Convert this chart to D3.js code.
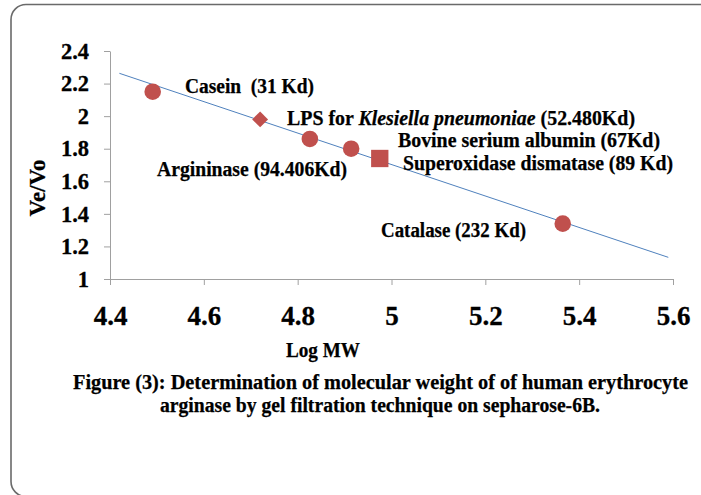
<!DOCTYPE html>
<html>
<head>
<meta charset="utf-8">
<script src="https://cdn.jsdelivr.net/npm/d3@7"></script>
<style>
  body { margin: 0; background: #fff; }
  svg { display: block; font-family: "Liberation Serif", "Times New Roman", serif; font-weight: bold; }
</style>
</head>
<body>
<div class="plot"></div>
<script>
// points
const logMW = [4.491, 4.72, 4.826, 4.914, 4.975, 5.365];
const veVo = [2.15, 1.98, 1.86, 1.80, 1.74, 1.34];
const shapes = ["circle", "diamond", "circle", "circle", "square", "circle"];

// fitted line end points
const trendX = [4.42, 5.59];
const trendY = [2.263, 1.133];

const xTicks = [4.4, 4.6, 4.8, 5, 5.2, 5.4, 5.6];
const yTicks = [1, 1.2, 1.4, 1.6, 1.8, 2, 2.2, 2.4];

const labels = [
  "Casein  (31 Kd)",
  "LPS for |Klesiella pneumoniae| (52.480Kd)",
  "Bovine serium albumin (67Kd)",
  "Superoxidase dismatase (89 Kd)",
  "Argininase (94.406Kd)",
  "Catalase (232 Kd)"
];

const width = 701;
const height = 495;

const svg = d3.select(".plot")
  .append("svg")
  .attr("width", width)
  .attr("height", height);

// rounded frame, mostly running off the page
svg.append("rect")
  .attr("x", 11)
  .attr("y", 4.5)
  .attr("width", 720)
  .attr("height", 492)
  .attr("rx", 15)
  .attr("fill", "none")
  .attr("stroke", "#6a6a6a")
  .attr("stroke-width", 1.6);

const x = d3.scaleLinear().domain([4.4, 5.6]).range([110, 673]);
const y = d3.scaleLinear().domain([1, 2.4]).range([279, 51]);

const xAxis = svg.append("g")
  .attr("transform", "translate(0,279)")
  .call(d3.axisBottom(x).tickValues(xTicks).tickFormat(d3.format("~g"))
    .tickSize(6).tickSizeOuter(0).tickPadding(21));

const yAxis = svg.append("g")
  .attr("transform", "translate(110,0)")
  .call(d3.axisLeft(y).tickValues(yTicks).tickFormat(d3.format("~g"))
    .tickSize(6).tickSizeOuter(0).tickPadding(15));

svg.selectAll(".domain, .tick line").attr("stroke", "#a0a0a0");
xAxis.selectAll("text")
  .attr("font-size", "27px")
  .attr("font-family", "Liberation Serif")
  .attr("font-weight", "bold")
  .attr("fill", "#000")
  .attr("stroke", "#000")
  .attr("stroke-width", 0.3);
yAxis.selectAll("text")
  .attr("font-size", "22.5px")
  .attr("font-family", "Liberation Serif")
  .attr("font-weight", "bold")
  .attr("fill", "#000")
  .attr("stroke", "#000")
  .attr("stroke-width", 0.3);

// trend line
svg.append("line")
  .attr("x1", x(trendX[0]))
  .attr("y1", y(trendY[0]))
  .attr("x2", x(trendX[1]))
  .attr("y2", y(trendY[1]))
  .attr("stroke", "#4f81bd")
  .attr("stroke-width", 1);

// markers
const pts = logMW.map((d, i) => ({ x: d, y: veVo[i], shape: shapes[i] }));
const sym = { circle: d3.symbolCircle, diamond: d3.symbolDiamond2, square: d3.symbolSquare };
const size = { circle: 215, diamond: 160, square: 300 };

svg.selectAll(".pt")
  .data(pts)
  .enter()
  .append("path")
  .attr("class", "pt")
  .attr("transform", d => "translate(" + x(d.x) + "," + y(d.y) + ")")
  .attr("d", d => d3.symbol().type(sym[d.shape]).size(size[d.shape])())
  .attr("fill", "#c0504d");

// annotation positions (px) and widths
const labelPos = [[185, 93], [287, 125], [398, 147], [403, 170], [157, 176], [381, 237]];
const labelW = [129, 348, 262, 270, 190, 145];

svg.selectAll(".lbl")
  .data(labels)
  .enter()
  .append("text")
  .attr("class", "lbl")
  .attr("x", (d, i) => labelPos[i][0])
  .attr("y", (d, i) => labelPos[i][1])
  .attr("font-size", "20px")
  .attr("textLength", (d, i) => labelW[i])
  .attr("lengthAdjust", "spacingAndGlyphs")
  .attr("stroke", "#000")
  .attr("stroke-width", 0.25)
  .style("white-space", "pre")
  .each(function(d) {
    const parts = d.split("|");
    parts.forEach((p, j) => {
      d3.select(this).append("tspan")
        .attr("font-style", j == 1 ? "italic" : "normal")
        .text(p);
    });
  });

// axis titles
svg.append("text")
  .attr("transform", "translate(45,188) rotate(-90)")
  .attr("text-anchor", "middle")
  .attr("font-size", "23px")
  .attr("stroke", "#000")
  .attr("stroke-width", 0.25)
  .text("Ve/Vo");

svg.append("text")
  .attr("x", 286)
  .attr("y", 357)
  .attr("font-size", "20px")
  .attr("textLength", 74)
  .attr("lengthAdjust", "spacingAndGlyphs")
  .attr("stroke", "#000")
  .attr("stroke-width", 0.25)
  .text("Log MW");

// caption
svg.append("text")
  .attr("x", 73)
  .attr("y", 389)
  .attr("font-size", "20px")
  .attr("textLength", 615)
  .attr("lengthAdjust", "spacingAndGlyphs")
  .attr("stroke", "#000")
  .attr("stroke-width", 0.25)
  .text("Figure (3): Determination of molecular weight of of human erythrocyte");

svg.append("text")
  .attr("x", 160)
  .attr("y", 412)
  .attr("font-size", "20px")
  .attr("textLength", 440)
  .attr("lengthAdjust", "spacingAndGlyphs")
  .attr("stroke", "#000")
  .attr("stroke-width", 0.25)
  .text("arginase by gel filtration technique on sepharose-6B.");
</script>
</body>
</html>
